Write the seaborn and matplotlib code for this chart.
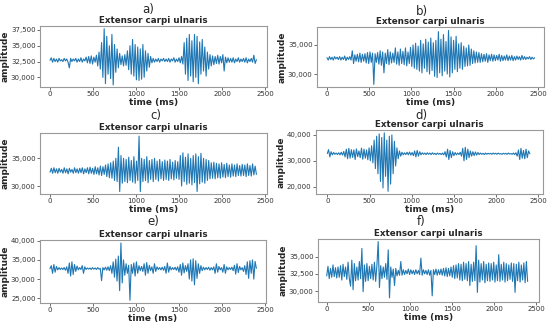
import numpy as np
import pandas as pd
import matplotlib
matplotlib.use("Agg")
import matplotlib.pyplot as plt
import seaborn as sns
from matplotlib.ticker import FuncFormatter

sns.set_style("white")
plt.rcParams['font.family'] = ['DejaVu Sans']

step_ms = 15

amp_a = [
    32700, 33100, 32400, 33000, 32500, 32900, 32400, 33000, 32600, 32800,
    32500, 33000, 32600, 32900, 32400, 31500, 33000, 32500, 32900, 32600,
    33000, 32400, 32900, 32500, 33100, 32400, 32900, 32600, 33200, 32300,
    33300, 32200, 33400, 32100, 33200, 32400, 33500, 31800, 34000, 31300,
    35500, 30000, 37700, 29000, 36500, 30500, 35000, 29800, 36800, 28800,
    35200, 30800, 34500, 31500, 33800, 32000, 33400, 31800, 33600, 31900,
    34200, 31200, 35000, 30500, 36000, 30200, 35200, 29600, 34800, 29500,
    34500, 29700, 35200, 30000, 34200, 31000, 33800, 31600, 33300, 32300,
    33000, 32400, 32900, 32500, 33000, 32400, 32900, 32600, 33000, 32500,
    32900, 32500, 33000, 32400, 32900, 32600, 33100, 32400, 32900, 32500,
    33100, 32300, 33300, 32100, 35500, 30500, 36200, 29500, 36800, 30200,
    35800, 29300, 36800, 30000, 36500, 29000, 35600, 30500, 36000, 31000,
    34800, 30200, 34000, 31300, 33600, 31800, 33400, 32000, 33300, 32200,
    33500, 32100, 33300, 32300, 33600, 31000, 33200, 32300, 33100, 32400,
    33000, 32400, 33100, 32300, 32900, 32500, 33100, 32400, 32900, 32500,
    33000, 32400, 33100, 32300, 32900, 32500, 33000, 32400, 33500, 32200,
    32800,
]

amp_b = [
    32800, 32400, 33000, 32500, 32900, 32400, 33000, 32600, 32900, 32500,
    33000, 32400, 32900, 32500, 33100, 32300, 32900, 32500, 33000, 32400,
    34000, 31800, 33300, 32200, 33400, 32100, 33600, 32000, 33400, 32200,
    33500, 31900, 33700, 31800, 33800, 32000, 33600, 28200, 33500, 32000,
    33700, 31700, 34000, 31500, 33800, 30200, 33600, 31800, 34200, 31600,
    33800, 31900, 33600, 32000, 34500, 31700, 33800, 31500, 34300, 31800,
    33900, 31600, 34500, 31400, 33800, 31800, 34600, 31300, 35000, 31000,
    35300, 30800, 34800, 30500, 35800, 30200, 35200, 31000, 36000, 30400,
    35500, 30000, 36200, 30600, 35400, 29600, 35800, 29400, 37300, 30200,
    36000, 29700, 36800, 30500, 35600, 30000, 37500, 29500, 36400, 30200,
    35800, 30800, 36500, 30400, 35200, 31000, 35400, 30800, 34800, 31300,
    34500, 31400, 35000, 31500, 34300, 31800, 34000, 31900, 33800, 32000,
    33700, 32000, 33500, 32100, 33400, 32200, 33500, 32000, 33300, 32300,
    33400, 32200, 33300, 32300, 33200, 32400, 33400, 32200, 33200, 32300,
    33100, 32400, 33300, 32300, 33100, 32400, 33200, 32300, 33000, 32400,
    33100, 32500, 33000, 32400, 33200, 32500, 33000, 32500, 32900, 32600,
    33000, 32500, 32900, 32600, 32800,
]

amp_c = [
    32500, 33200, 32300, 33300, 32400, 33100, 32300, 33200, 32500, 33000,
    32300, 33300, 32400, 33100, 32200, 33200, 32500, 33000, 32300, 33300,
    32400, 33100, 32300, 33200, 32400, 33300, 32200, 33100, 32400, 33300,
    32200, 33400, 32300, 33200, 32100, 33500, 32200, 33300, 32000, 33600,
    31900, 33500, 32100, 33800, 31700, 34000, 31500, 34200, 31400, 34500,
    31000, 35000, 30800, 37000, 29000, 35500, 30500, 35000, 30800, 34800,
    30600, 35200, 31000, 34600, 30700, 35300, 30500, 34500, 31000, 39000,
    29000, 35000, 30800, 34800, 31000, 35300, 30600, 34600, 31200, 34800,
    30800, 35000, 31200, 34500, 30900, 34800, 31300, 34400, 31000, 34700,
    31200, 34500, 31000, 34800, 31300, 34300, 31100, 34600, 31400, 34400,
    31200, 35500, 30000, 36000, 30800, 35200, 30300, 35800, 30500, 35000,
    30200, 35500, 30600, 35800, 29000, 35300, 30400, 35900, 30700, 35000,
    30500, 34800, 31000, 34600, 31300, 34200, 31400, 34300, 31300, 34100,
    31500, 34000, 31400, 34200, 31600, 33900, 31500, 34100, 31700, 33800,
    31600, 34000, 31800, 33800, 31700, 34000, 31900, 33700, 31800, 33900,
    31900, 33800, 31700, 34000, 31900, 33700, 31800, 34000, 32000, 33600,
    32100,
]

amp_d = [
    32800, 34300, 31500, 33500, 32300, 33200, 32500, 33000, 32400, 33100,
    32300, 33300, 32200, 33600, 31500, 34500, 30800, 34800, 31000, 34300,
    31300, 34200, 30500, 34600, 31600, 33800, 31200, 34900, 30600, 34500,
    31000, 34200, 30400, 35000, 30000, 35800, 29200, 38000, 27000, 39500,
    25000, 40400, 22000, 39000, 19500, 40800, 24000, 38000, 18200, 39500,
    21000, 40000, 25000, 37500, 28000, 35000, 30800, 33800, 31800, 33300,
    32300, 33100, 32400, 33300, 32300, 33400, 32200, 33200, 32000, 33800,
    31500, 34000, 31800, 33500, 32300, 33100, 32500, 33000, 32400, 33100,
    32500, 33000, 32400, 33100, 32500, 32900, 32400, 33000, 32500, 32900,
    32400, 33000, 32300, 33500, 31500, 34500, 30500, 34000, 31200, 33500,
    32000, 33200, 32300, 33000, 32400, 33300, 31800, 34800, 30000, 35200,
    30500, 34500, 31200, 33800, 31800, 33500, 32000, 33400, 32200, 33200,
    32400, 33000, 32500, 32900, 32400, 33000, 32500, 32900, 32600, 32900,
    32500, 33000, 32600, 32900, 32500, 33000, 32600, 32800, 32500, 32900,
    32600, 32900, 32500, 33000, 32600, 32800, 32500, 33000, 32400, 33100,
    31800, 34200, 30500, 34800, 31000, 34000, 30800, 34500, 31200, 33800,
    32700,
]

amp_e = [
    32700, 33500, 31500, 33800, 31800, 33300, 32400, 33000, 32500, 32900,
    32500, 33000, 32300, 33200, 31500, 34200, 30800, 34500, 31200, 33800,
    32000, 33400, 32400, 33000, 32500, 33500, 31500, 33200, 32500, 32900,
    32600, 32900, 32500, 33000, 32600, 32900, 32500, 33000, 32600, 32800,
    29600, 33000, 32400, 33100, 32300, 33200, 32200, 33500, 31500, 34500,
    30500, 35200, 29500, 36000, 27000, 39400, 29000, 35000, 31000, 34000,
    31500, 33600, 24500, 33800, 31500, 34200, 30800, 34500, 31500, 33500,
    32200, 33300, 32000, 34000, 31000, 34300, 31500, 33600, 32200, 33200,
    31500, 34000, 32000, 33200, 32500, 33000, 32400, 33100, 32300, 33300,
    31500, 34200, 31800, 33300, 32400, 33000, 32500, 33100, 32300, 33200,
    31800, 33800, 31000, 34200, 31600, 33500, 32000, 34000, 30000, 35000,
    29500, 35300, 28500, 34800, 30200, 34000, 31500, 33500, 32200, 33100,
    32400, 33000, 32500, 33100, 32300, 33000, 32400, 33200, 31500, 34000,
    31800, 33300, 32400, 33000, 31800, 33800, 31500, 33200, 32400, 33000,
    32500, 33100, 32200, 33600, 31300, 34000, 31700, 33300, 32400, 33000,
    32000, 33500, 31200, 34500, 30200, 34800, 31500, 35000, 30000, 34600,
    32800,
]

amp_f = [
    32200, 33600, 31800, 33300, 32000, 33800, 32100, 33400, 31900, 33500,
    32000, 33700, 31600, 33900, 32100, 33500, 31700, 34200, 31800, 30700,
    34500, 30200, 34000, 31500, 33500, 31600, 34300, 31800, 36200, 29900,
    33800, 31400, 34000, 31500, 33600, 31800, 33900, 31600, 34200, 31400,
    33800, 37200, 30500, 33700, 31800, 33500, 32000, 34000, 31700, 36000,
    29000, 33500, 32000, 33200, 30800, 33300, 32200, 33000, 32300, 34300,
    32300, 33100, 32400, 33000, 32500, 33200, 32400, 33100, 32500, 33000,
    32400, 33100, 32500, 33000, 32400, 34800, 32300, 33100, 32500, 33000,
    32400, 33100, 32300, 33000, 29300, 33100, 32400, 33200, 32300, 33100,
    32400, 33200, 32300, 33300, 32200, 33400, 32100, 33300, 32200, 33500,
    32000, 33700, 31800, 33800, 31900, 34000, 31600, 33900, 31500, 34200,
    31700, 34000, 31500, 34300, 30800, 33900, 31400, 34200, 31500, 36600,
    29800, 34500, 31300, 34000, 31600, 34300, 31200, 33900, 31500, 34100,
    31400, 34000, 31600, 34200, 31300, 33800, 31500, 35300, 31400, 33900,
    31600, 34200, 31300, 34000, 31500, 33800, 31700, 34100, 31400, 34000,
    29800, 33900, 31500, 34200, 31300, 33800, 31600, 34100, 31200, 34300,
    31400,
]

panel_labels = ["a)", "b)", "c)", "d)", "e)", "f)"]
title = "Extensor carpi ulnaris"
series = [amp_a, amp_b, amp_c, amp_d, amp_e, amp_f]
yticks = [
    [30000, 32500, 35000, 37500],
    [30000, 35000],
    [30000, 35000],
    [20000, 30000, 40000],
    [25000, 30000, 35000, 40000],
    [30000, 32500, 35000],
]
xticks = [0, 500, 1000, 1500, 2000, 2500]

# layout (pixels): left, right, top, bottom
boxes = [
    (40, 267, 26, 87),
    (317, 544, 27, 87),
    (40, 267, 133, 194),
    (316, 543, 130, 194),
    (40, 266, 240, 303),
    (318, 539, 239, 302),
]
ylims = [(28470, 38130), (27760, 38100), (28560, 39570),
         (17170, 41900), (23780, 40180), (28400, 37580)]
xlims = [(-116, 2523), (-118, 2571), (-117, 2523),
         (-134, 2556), (-116, 2512), (-104, 2536)]
label_y = [9, 12, 115, 115, 221, 221]
label_x = [148, 422, 156, 421, 153, 421]

W, H = 550, 326
fig = plt.figure(figsize=(W / 100, H / 100), dpi=100)
fmt = FuncFormatter(lambda v, p: f"{int(v):,}")

for i, vals in enumerate(series):
    l, r, t, b = boxes[i]
    ax = fig.add_axes([l / W, 1 - b / H, (r - l) / W, (b - t) / H])
    df = pd.DataFrame({"time": np.arange(len(vals)) * step_ms, "amp": vals})
    sns.lineplot(data=df, x="time", y="amp", ax=ax, color="#1f77b4",
                 linewidth=0.8, estimator=None)
    ax.set_xlim(*xlims[i])
    ax.set_ylim(*ylims[i])
    ax.set_xticks(xticks)
    ax.set_yticks(yticks[i])
    ax.yaxis.set_major_formatter(fmt)
    ax.tick_params(axis="both", labelsize=5, length=2, width=0.5,
                   pad=1.2, colors="#333333", bottom=True, left=True)
    for s in ax.spines.values():
        s.set_color("#999999")
        s.set_linewidth(0.8)
    ax.set_title(title, fontsize=6.3, fontweight="bold", pad=2)
    ax.set_xlabel("time (ms)", fontsize=6.5, fontweight="bold", labelpad=0.5)
    ax.set_ylabel("amplitude", fontsize=6.5, fontweight="bold", labelpad=1)
    fig.text(label_x[i] / W, 1 - label_y[i] / H, panel_labels[i],
             fontsize=8.5, ha="center", va="center")

fig.savefig("out.png", dpi=100)
